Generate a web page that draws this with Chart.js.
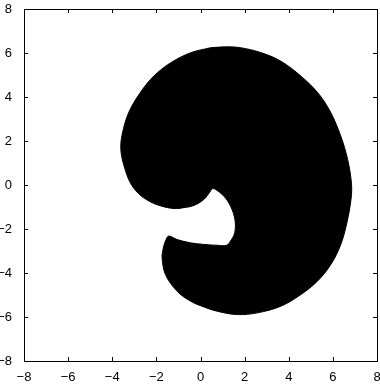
<!DOCTYPE html>
<html>
<head>
<meta charset="utf-8">
<script src="https://cdn.jsdelivr.net/npm/chart.js@4.4.1/dist/chart.umd.min.js"></script>
<style>
  html, body { margin: 0; padding: 0; background: #fff; }
  #wrap { width: 380px; height: 389px; }
</style>
</head>
<body>
<div id="wrap"><canvas id="c"></canvas></div>
<script>
// boundary of the filled region, traced clockwise from the top
const shapeX = [0.45, 1.2, 1.82, 2.73, 3.64, 4.55, 5.36, 5.91, 6.36, 6.67, 6.84, 6.83, 6.65, 6.36, 5.91, 5.3, 4.55, 3.64, 2.58, 1.67,
  0.76, 0.15, -0.45, -1.06, -1.59, -1.74, -1.7, -1.59, -1.44, -1.06, -0.45, 0.15, 0.76, 1.18, 1.36, 1.55, 1.56, 1.36, 1.06, 0.68,
  0.53, 0.45, 0.15, -0.3, -0.76, -1.2, -1.8, -2.3, -2.8, -3.18, -3.46, -3.61, -3.55, -3.26, -2.75, -2.12, -1.36, -0.45];
const shapeY = [6.24, 6.28, 6.24, 6.02, 5.63, 4.95, 4.14, 3.28, 2.22, 1.16, 0.1, -0.6, -1.65, -2.7, -3.61, -4.37, -4.98, -5.51, -5.81, -5.89,
  -5.74, -5.54, -5.28, -4.83, -4.07, -3.31, -2.93, -2.55, -2.32, -2.48, -2.63, -2.7, -2.74, -2.74, -2.55, -2.17, -1.57, -0.96, -0.51, -0.2,
  -0.17, -0.28, -0.66, -0.93, -1.03, -1.07, -0.95, -0.75, -0.4, 0.1, 0.85, 1.6, 2.3, 3.28, 4.17, 4.95, 5.55, 6.01];

const tickValues = [-8, -6, -4, -2, 0, 2, 4, 6, 8];
const tickLabels = ["\u22128", "\u22126", "\u22124", "\u22122", "0", "2", "4", "6", "8"];

const points = shapeX.map((x, i) => ({ x, y: shapeY[i] }));
points.push(points[0]);

const frameAndTicks = {
  id: "frameAndTicks",
  afterDraw(chart) {
    const { ctx, chartArea: a, scales: { x, y } } = chart;
    ctx.save();
    ctx.strokeStyle = "#000";
    ctx.lineWidth = 1;
    ctx.beginPath();
    tickValues.forEach(v => {
      const px = Math.round(x.getPixelForValue(v)) + 0.5;
      ctx.moveTo(px, a.bottom); ctx.lineTo(px, a.bottom - 4);
      ctx.moveTo(px, a.top); ctx.lineTo(px, a.top + 4);
      const py = Math.round(y.getPixelForValue(v)) + 0.5;
      ctx.moveTo(a.left, py); ctx.lineTo(a.left + 4, py);
      ctx.moveTo(a.right, py); ctx.lineTo(a.right - 4, py);
    });
    ctx.stroke();
    ctx.strokeRect(a.left + 0.5, a.top + 0.5, a.right - a.left, a.bottom - a.top);
    ctx.restore();
  }
};

function setTicks(scale) {
  scale.ticks = tickValues.map(v => ({ value: v }));
}

new Chart(document.getElementById("c"), {
  type: "scatter",
  data: {
    datasets: [{
      data: points,
      showLine: true,
      fill: "shape",
      tension: 0.35,
      pointRadius: 0,
      borderColor: "#000",
      backgroundColor: "#000",
      borderWidth: 1,
    }],
  },
  options: {
    responsive: true,
    maintainAspectRatio: false,
    animation: false,
    devicePixelRatio: 1,
    layout: { padding: { top: 9, right: 3, left: 0, bottom: 0 } },
    plugins: { legend: { display: false }, tooltip: { enabled: false } },
    scales: {
      x: {
        type: "linear",
        min: -8,
        max: 8,
        afterBuildTicks: setTicks,
        afterFit: s => { s.height = 28; s.paddingLeft = 0; s.paddingRight = 0; },
        grid: { display: false },
        border: { display: false },
        ticks: {
          padding: 1,
          maxRotation: 0,
          color: "#000",
          font: { family: "'Liberation Sans', Arial, sans-serif", size: 13 },
          callback: v => tickLabels[tickValues.indexOf(v)],
        },
      },
      y: {
        type: "linear",
        min: -8,
        max: 8,
        afterBuildTicks: setTicks,
        afterFit: s => { s.width = 24; s.paddingTop = 0; s.paddingBottom = 0; },
        grid: { display: false },
        border: { display: false },
        ticks: {
          padding: 4,
          color: "#000",
          font: { family: "'Liberation Sans', Arial, sans-serif", size: 13 },
          callback: v => tickLabels[tickValues.indexOf(v)],
        },
      },
    },
  },
  plugins: [frameAndTicks],
});
</script>
</body>
</html>
